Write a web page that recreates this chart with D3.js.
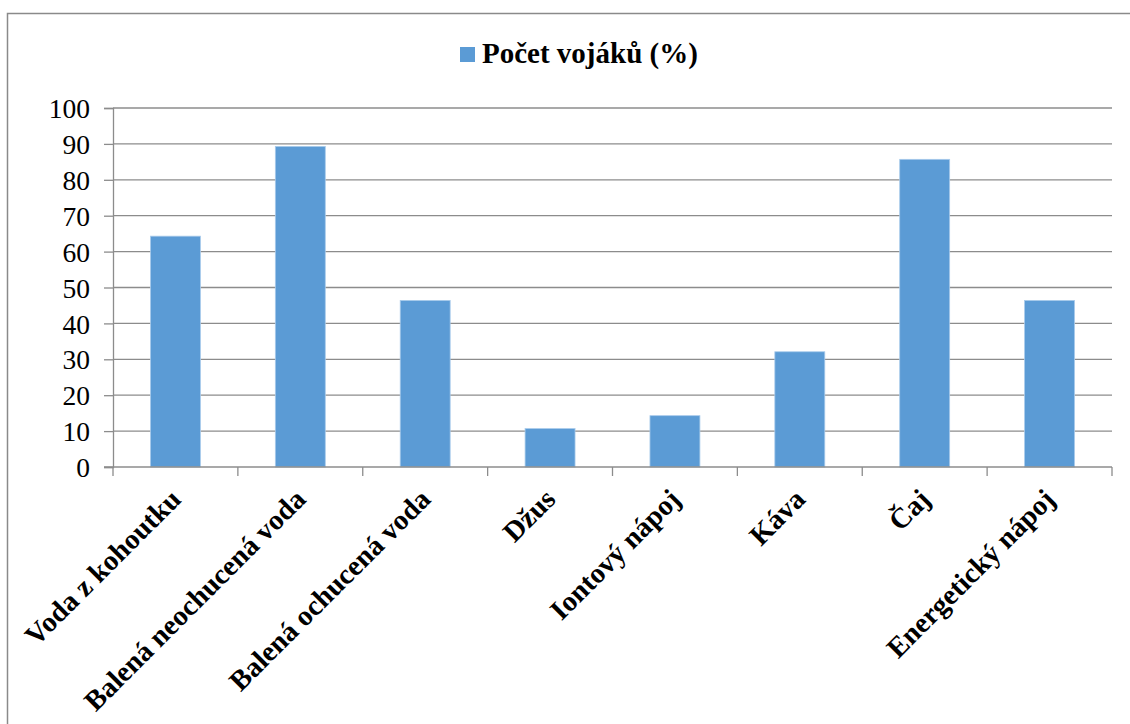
<!DOCTYPE html>
<html>
<head>
<meta charset="utf-8">
<script src="https://cdn.jsdelivr.net/npm/d3@7"></script>
<style>
  html, body { margin: 0; padding: 0; background: #fff; }
  svg { display: block; }
</style>
</head>
<body>
<svg id="chart" width="1130" height="724"></svg>
<script>
const categories = ["Voda z kohoutku", "Balená neochucená voda", "Balená ochucená voda", "Džus", "Iontový nápoj", "Káva", "Čaj", "Energetický nápoj"];
const values = [64.3, 89.3, 46.4, 10.7, 14.3, 32.1, 85.7, 46.4];
const yTicks = [0, 10, 20, 30, 40, 50, 60, 70, 80, 90, 100];
const seriesName = "Počet vojáků (%)";

const FONT = '"Liberation Serif", "Times New Roman", serif';
const svg = d3.select("#chart");
const margin = { left: 113, right: 1112, top: 108, bottom: 467 };
const gridColor = "#8c8c8c";
const barColor = "#5b9bd5";

// outer border (top and left visible; right/bottom beyond frame)
svg.append("path")
  .attr("d", "M7.5,800 L7.5,13.5 L1140,13.5")
  .attr("fill", "none").attr("stroke", "#8a8a8a").attr("stroke-width", 1.5);

const x = d3.scaleBand().domain(categories).range([margin.left, margin.right]).padding(0);
const y = d3.scaleLinear().domain([0, 100]).range([margin.bottom, margin.top]);

// gridlines
svg.append("g").selectAll("line").data(yTicks.filter(d => d > 0)).join("line")
  .attr("x1", margin.left).attr("x2", margin.right)
  .attr("y1", d => y(d)).attr("y2", d => y(d))
  .attr("stroke", gridColor).attr("stroke-width", 1.3);

// y axis
const yAxis = svg.append("g").attr("transform", `translate(${margin.left},0)`)
  .call(d3.axisLeft(y).tickValues(yTicks).tickSize(9).tickPadding(14).tickFormat(d3.format("d")));
yAxis.attr("font-family", null).attr("font-size", null);
yAxis.select(".domain").attr("stroke", gridColor).attr("stroke-width", 1.3);
yAxis.selectAll(".tick line").attr("stroke", gridColor).attr("stroke-width", 1.3);
yAxis.selectAll(".tick text")
  .style("font-family", FONT).style("font-size", "27.5px")
  .attr("fill", "#000").attr("dy", "0.35em");

// bars
const barW = x.bandwidth() * 0.4;
svg.append("g").selectAll("rect").data(values).join("rect")
  .attr("x", (d, i) => x(categories[i]) + (x.bandwidth() - barW) / 2)
  .attr("y", d => y(d))
  .attr("width", barW)
  .attr("height", d => y(0) - y(d))
  .attr("fill", barColor)
  .attr("stroke", "#a9cbeb").attr("stroke-width", 0.8);

// x axis line + ticks at category boundaries
const bounds = categories.map(c => x(c)).concat([margin.right]);
svg.append("line")
  .attr("x1", margin.left - 9).attr("x2", margin.right)
  .attr("y1", y(0)).attr("y2", y(0))
  .attr("stroke", gridColor).attr("stroke-width", 1.3);
svg.append("g").selectAll("line").data(bounds).join("line")
  .attr("x1", d => d).attr("x2", d => d)
  .attr("y1", y(0)).attr("y2", y(0) + 9)
  .attr("stroke", gridColor).attr("stroke-width", 1.3);

// x labels
svg.append("g").selectAll("text").data(categories).join("text")
  .attr("transform", d => `translate(${x(d) + x.bandwidth() / 2 + 7},${y(0) + 34}) rotate(-45)`)
  .attr("text-anchor", "end")
  .attr("fill", "#000")
  .style("font-family", FONT).style("font-size", "28.5px").style("font-weight", "bold")
  .text(d => d);

// legend
const legend = svg.append("g");
legend.append("rect").attr("x", 460).attr("y", 47).attr("width", 15).attr("height", 15).attr("fill", barColor);
legend.append("text").attr("x", 482).attr("y", 63).attr("fill", "#000")
  .style("font-family", FONT).style("font-size", "29px").style("font-weight", "bold")
  .text(seriesName);
</script>
</body>
</html>
